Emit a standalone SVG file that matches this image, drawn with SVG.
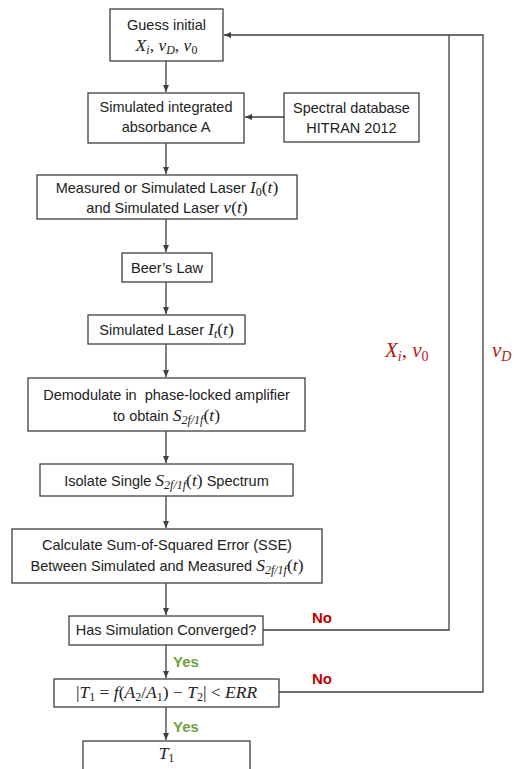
<svg xmlns="http://www.w3.org/2000/svg" width="514" height="769" viewBox="0 0 514 769">
<defs>
<style>
.box{fill:#fff;stroke:#404040;stroke-width:1.3}
.t{font-family:"Liberation Sans",Arial,sans-serif;font-size:14.5px;fill:#222;text-anchor:middle}
.m{font-family:"Liberation Serif","Times New Roman",serif;font-style:italic;font-size:17.5px}
.u{font-family:"Liberation Serif","Times New Roman",serif;font-style:normal;font-size:17.5px}
.s{font-size:12px}
.ln{fill:none;stroke:#404040;stroke-width:1.3}
.no{font-family:"Liberation Sans",Arial,sans-serif;font-weight:bold;font-size:15px;fill:#C00000}
.yes{font-family:"Liberation Sans",Arial,sans-serif;font-weight:bold;font-size:15px;fill:#70A040}
.red{font-family:"Liberation Serif","Times New Roman",serif;font-style:italic;font-size:21px;fill:#B01818}
</style>
<marker id="ah" markerWidth="8" markerHeight="8" refX="7" refY="4" orient="auto" markerUnits="userSpaceOnUse">
<path d="M0,1 L7,4 L0,7 z" fill="#404040"/>
</marker>
</defs>

<g id="connectors">
<line class="ln" x1="166" y1="61" x2="166" y2="92" marker-end="url(#ah)"/>
<line class="ln" x1="284" y1="117" x2="245" y2="117" marker-end="url(#ah)"/>
<line class="ln" x1="166" y1="143" x2="166" y2="174" marker-end="url(#ah)"/>
<line class="ln" x1="166" y1="219" x2="166" y2="252" marker-end="url(#ah)"/>
<line class="ln" x1="166" y1="282" x2="166" y2="314" marker-end="url(#ah)"/>
<line class="ln" x1="166" y1="344" x2="166" y2="377" marker-end="url(#ah)"/>
<line class="ln" x1="166" y1="431" x2="166" y2="463" marker-end="url(#ah)"/>
<line class="ln" x1="166" y1="496" x2="166" y2="528" marker-end="url(#ah)"/>
<line class="ln" x1="166" y1="583" x2="166" y2="615" marker-end="url(#ah)"/>
<line class="ln" x1="166" y1="645" x2="166" y2="678" marker-end="url(#ah)"/>
<line class="ln" x1="166" y1="707" x2="166" y2="740" marker-end="url(#ah)"/>
<path class="ln" d="M263,630 H449 V35"/>
<path class="ln" d="M279,692 H483 V35 H224" marker-end="url(#ah)"/>
</g>

<g id="n1"><rect class="box" x="110" y="9" width="113" height="52"/>
<text class="t" x="166.5" y="30">Guess initial</text>
<text class="t" x="166.5" y="51"><tspan class="m">X</tspan><tspan class="m s" dy="3">i</tspan><tspan class="u" dy="-3">, </tspan><tspan class="m">v</tspan><tspan class="m s" dy="3">D</tspan><tspan class="u" dy="-3">, </tspan><tspan class="m">v</tspan><tspan class="u s" dy="3">0</tspan></text></g>

<g id="n2"><rect class="box" x="88" y="93" width="156" height="50"/>
<text class="t" x="166" y="112">Simulated integrated</text>
<text class="t" x="166" y="132">absorbance A</text></g>

<g id="n_db"><rect class="box" x="284" y="93" width="135" height="49"/>
<text class="t" x="351.5" y="113">Spectral database</text>
<text class="t" x="351.5" y="133">HITRAN 2012</text></g>

<g id="n3"><rect class="box" x="37" y="175" width="260" height="44"/>
<text class="t" x="167" y="193">Measured or Simulated Laser <tspan class="m">I</tspan><tspan class="u s" dy="3">0</tspan><tspan class="u" dy="-3">(</tspan><tspan class="m">t</tspan><tspan class="u">)</tspan></text>
<text class="t" x="167" y="213">and Simulated Laser <tspan class="m">v</tspan><tspan class="u">(</tspan><tspan class="m">t</tspan><tspan class="u">)</tspan></text></g>

<g id="n4"><rect class="box" x="122" y="253" width="90" height="29"/>
<text class="t" x="167" y="273">Beer’s Law</text></g>

<g id="n5"><rect class="box" x="88" y="315" width="157" height="29"/>
<text class="t" x="166.5" y="335">Simulated Laser <tspan class="m">I</tspan><tspan class="m s" dy="3">t</tspan><tspan class="u" dy="-3">(</tspan><tspan class="m">t</tspan><tspan class="u">)</tspan></text></g>

<g id="n6"><rect class="box" x="28" y="378" width="277" height="53"/>
<text class="t" x="166.5" y="400">Demodulate in&#160; phase-locked amplifier</text>
<text class="t" x="166.5" y="421">to obtain <tspan class="m">S</tspan><tspan class="m s" dy="3">2f/1f</tspan><tspan class="u" dy="-3">(</tspan><tspan class="m">t</tspan><tspan class="u">)</tspan></text></g>

<g id="n7"><rect class="box" x="40" y="464" width="253" height="32"/>
<text class="t" x="166.5" y="486">Isolate Single <tspan class="m">S</tspan><tspan class="m s" dy="3">2f/1f</tspan><tspan class="u" dy="-3">(</tspan><tspan class="m">t</tspan><tspan class="u">)</tspan> Spectrum</text></g>

<g id="n8"><rect class="box" x="12" y="529" width="310" height="54"/>
<text class="t" x="167" y="550">Calculate Sum-of-Squared Error (SSE)</text>
<text class="t" x="167" y="571">Between Simulated and Measured <tspan class="m">S</tspan><tspan class="m s" dy="3">2f/1f</tspan><tspan class="u" dy="-3">(</tspan><tspan class="m">t</tspan><tspan class="u">)</tspan></text></g>

<g id="n9"><rect class="box" x="69" y="616" width="194" height="29"/>
<text class="t" x="166" y="635">Has Simulation Converged?</text></g>

<g id="n10"><rect class="box" x="54" y="679" width="225" height="28"/>
<text class="t" x="166.5" y="698"><tspan class="u">|</tspan><tspan class="m">T</tspan><tspan class="u s" dy="3">1</tspan><tspan class="u" dy="-3"> = </tspan><tspan class="m">f</tspan><tspan class="u">(</tspan><tspan class="m">A</tspan><tspan class="u s" dy="3">2</tspan><tspan class="u" dy="-3">/</tspan><tspan class="m">A</tspan><tspan class="u s" dy="3">1</tspan><tspan class="u" dy="-3">) − </tspan><tspan class="m">T</tspan><tspan class="u s" dy="3">2</tspan><tspan class="u" dy="-3">| &lt; </tspan><tspan class="m">ERR</tspan></text></g>

<g id="n11"><rect class="box" x="83" y="741" width="167" height="40"/>
<text class="t" x="166.5" y="759"><tspan class="m">T</tspan><tspan class="u s" dy="3">1</tspan></text></g>

<g id="labels">
<text class="no" x="312" y="623">No</text>
<text class="no" x="312" y="684">No</text>
<text class="yes" x="173" y="667">Yes</text>
<text class="yes" x="173" y="732">Yes</text>
<text class="red" x="385" y="357">X<tspan font-size="14" dy="4">i</tspan><tspan font-style="normal" dy="-4">, </tspan>v<tspan font-style="normal" font-size="14" dy="4">0</tspan></text>
<text class="red" x="492" y="357">v<tspan font-size="14" dy="4">D</tspan></text>
</g>
</svg>
